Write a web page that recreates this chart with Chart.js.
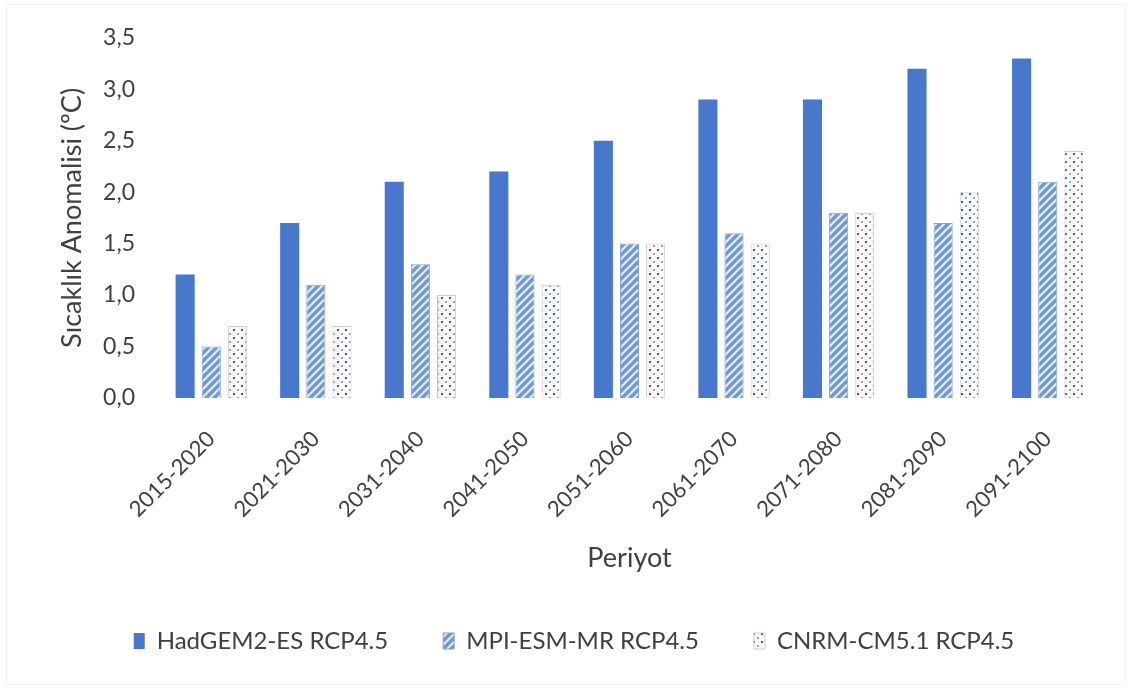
<!DOCTYPE html>
<html>
<head>
<meta charset="utf-8">
<script src="https://cdn.jsdelivr.net/npm/chart.js@4"></script>
<style>
  html, body { margin: 0; padding: 0; background: #fff; }
  #wrap { width: 1132px; height: 693px; position: relative; }
  #frame { position: absolute; left: 6px; top: 4px; right: 6px; bottom: 8px; border: 1px solid #f0f0f0; pointer-events: none; }
</style>
</head>
<body>
<div id="wrap"><canvas id="chart" width="1132" height="693"></canvas><div id="frame"></div></div>
<script>
const periods = ['2015-2020', '2021-2030', '2031-2040', '2041-2050', '2051-2060', '2061-2070', '2071-2080', '2081-2090', '2091-2100'];
const hadgem = [1.2, 1.7, 2.1, 2.2, 2.5, 2.9, 2.9, 3.2, 3.3];
const mpi = [0.5, 1.1, 1.3, 1.2, 1.5, 1.6, 1.8, 1.7, 2.1];
const cnrm = [0.7, 0.7, 1.0, 1.1, 1.5, 1.5, 1.8, 2.0, 2.4];

// hatch patterns
function stripes() {
    const c = document.createElement('canvas');
    c.width = 8; c.height = 8;
    const g = c.getContext('2d');
    g.fillStyle = '#6f9ad6';
    g.fillRect(0, 0, 8, 8);
    g.strokeStyle = '#e6eefa';
    g.lineWidth = 2;
    g.beginPath();
    g.moveTo(-2, 10); g.lineTo(10, -2);
    g.moveTo(-2, 2); g.lineTo(2, -2);
    g.moveTo(6, 10); g.lineTo(10, 6);
    g.stroke();
    return g.createPattern(c, 'repeat');
}
function dots() {
    const c = document.createElement('canvas');
    c.width = 8; c.height = 8;
    const g = c.getContext('2d');
    g.fillStyle = '#f7f8fa';
    g.fillRect(0, 0, 8, 8);
    g.fillStyle = '#50555e';
    g.fillRect(1, 1, 2, 2);
    g.fillStyle = '#9ea4ad';
    g.fillRect(5, 5, 2, 2);
    return g.createPattern(c, 'repeat');
}

const font = "Lato, 'Open Sans', sans-serif";
const textColor = '#404040';

new Chart(document.getElementById('chart'), {
    type: 'bar',
    data: {
        labels: periods,
        datasets: [
            { label: 'HadGEM2-ES RCP4.5', data: hadgem, backgroundColor: '#4878cb', borderWidth: 0 },
            { label: 'MPI-ESM-MR RCP4.5', data: mpi, backgroundColor: stripes(), borderColor: '#7ea3d9', borderWidth: 1 },
            { label: 'CNRM-CM5.1 RCP4.5', data: cnrm, backgroundColor: dots(), borderColor: '#c9ccd1', borderWidth: 1 }
        ]
    },
    options: {
        responsive: false,
        animation: false,
        categoryPercentage: 0.75,
        barPercentage: 0.73,
        layout: { padding: { left: 48, right: 32, top: 23, bottom: 30 } },
        plugins: {
            legend: {
                position: 'bottom',
                labels: {
                    font: { family: font, size: 24 },
                    color: textColor,
                    boxWidth: 11,
                    boxHeight: 16,
                    padding: 55
                }
            },
            tooltip: { enabled: false }
        },
        scales: {
            x: {
                afterFit: s => { s.height -= 9; },
                grid: { display: false, drawTicks: false },
                border: { display: false },
                ticks: {
                    minRotation: 45, maxRotation: 45,
                    color: textColor,
                    font: { family: font, size: 22 },
                    padding: 28
                },
                title: {
                    display: true, text: 'Periyot',
                    color: textColor,
                    font: { family: font, size: 27 },
                    padding: { top: 0, bottom: 0 }
                }
            },
            y: {
                min: 0, max: 3.5,
                afterFit: s => { s.width = 111; },
                grid: { display: false, drawTicks: false },
                border: { display: false },
                ticks: {
                    stepSize: 0.5,
                    color: textColor,
                    font: { family: font, size: 23 },
                    padding: 24,
                    callback: v => v.toFixed(1).replace('.', ',')
                },
                title: {
                    display: true, text: 'Sıcaklık Anomalisi (ºC)',
                    color: textColor,
                    font: { family: font, size: 27 },
                    padding: { top: 8, bottom: 0 }
                }
            }
        }
    }
});
</script>
</body>
</html>
